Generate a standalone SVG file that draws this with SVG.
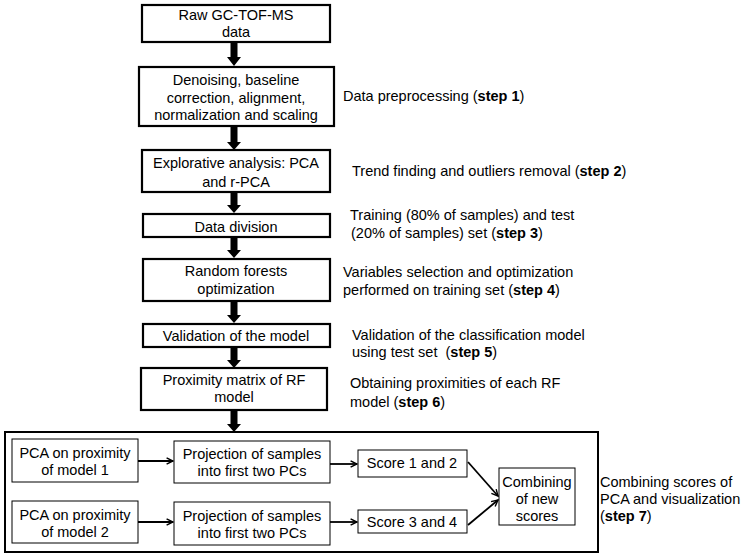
<svg xmlns="http://www.w3.org/2000/svg" width="747" height="557" viewBox="0 0 747 557">
<defs>
<style>
text{font-family:"Liberation Sans",Arial,sans-serif;font-size:14.5px;fill:#000}
.c{text-anchor:middle}
.b{font-weight:bold}
.main{fill:#fff;stroke:#000;stroke-width:2.2}
.inner{fill:#fff;stroke:#000;stroke-width:1}
.outer{fill:none;stroke:#000;stroke-width:2}
.thin{stroke:#000;stroke-width:1.8;fill:none;marker-end:url(#chev)}
.thick{fill:#000}
</style>
<marker id="chev" viewBox="0 0 10 10" refX="9" refY="5" markerWidth="8" markerHeight="8" orient="auto" markerUnits="userSpaceOnUse">
<path d="M1,1 L9,5 L1,9" fill="none" stroke="#000" stroke-width="1.8"/>
</marker>
</defs>
<rect x="0" y="0" width="747" height="557" fill="#fff"/>

<g id="n1"><rect class="main" x="142" y="5" width="188" height="37"/>
<text class="c" x="236" y="20">Raw GC-TOF-MS</text><text class="c" x="236" y="37">data</text></g>

<g id="n2"><rect class="main" x="139" y="67" width="195" height="59"/>
<text class="c" x="236" y="85">Denoising, baseline</text>
<text class="c" x="236" y="103">correction, alignment,</text>
<text class="c" x="236" y="120">normalization and scaling</text></g>

<g id="n3"><rect class="main" x="142" y="150" width="188" height="42"/>
<text class="c" x="236" y="168">Explorative analysis: PCA</text>
<text class="c" x="236" y="187">and r-PCA</text></g>

<g id="n4"><rect class="main" x="143" y="214" width="187" height="23"/>
<text class="c" x="236" y="232">Data division</text></g>

<g id="n5"><rect class="main" x="143" y="259" width="187" height="42"/>
<text class="c" x="236" y="276">Random forests</text>
<text class="c" x="236" y="294">optimization</text></g>

<g id="n6"><rect class="main" x="143" y="324" width="187" height="23"/>
<text class="c" x="236" y="341">Validation of the model</text></g>

<g id="n7"><rect class="main" x="141" y="368" width="186" height="42"/>
<text class="c" x="234" y="385">Proximity matrix of RF</text>
<text class="c" x="234" y="402">model</text></g>

<g id="group7"><rect class="outer" x="5" y="432" width="593" height="120"/></g>

<g id="p1"><rect class="inner" x="12" y="439" width="126" height="43"/>
<text class="c" x="75" y="458">PCA on proximity</text><text class="c" x="75" y="475">of model 1</text></g>
<g id="pr1"><rect class="inner" x="174" y="441" width="156" height="42"/>
<text class="c" x="252" y="459">Projection of samples</text><text class="c" x="252" y="476">into first two PCs</text></g>
<g id="s1"><rect class="inner" x="358" y="450" width="109" height="27"/>
<text class="c" x="412" y="468">Score 1 and 2</text></g>

<g id="p2"><rect class="inner" x="12" y="501" width="126" height="42"/>
<text class="c" x="75" y="520">PCA on proximity</text><text class="c" x="75" y="537">of model 2</text></g>
<g id="pr2"><rect class="inner" x="174" y="502" width="156" height="43"/>
<text class="c" x="252" y="521">Projection of samples</text><text class="c" x="252" y="538">into first two PCs</text></g>
<g id="s2"><rect class="inner" x="358" y="510" width="109" height="23"/>
<text class="c" x="412" y="527">Score 3 and 4</text></g>

<g id="comb"><rect class="inner" x="499" y="468" width="76" height="57"/>
<text class="c" x="537" y="487">Combining</text><text class="c" x="537" y="504">of new</text><text class="c" x="537" y="521">scores</text></g>

<g id="connectors">
<path class="thick" d="M230.5,42 h7 v15 h3.5 l-7,9 l-7,-9 h3.5 z"/>
<path class="thick" d="M230.5,126 h7 v16 h3.5 l-7,8 l-7,-8 h3.5 z"/>
<path class="thick" d="M230.5,192 h7 v13 h3.5 l-7,8 l-7,-8 h3.5 z"/>
<path class="thick" d="M230.5,237 h7 v13 h3.5 l-7,8 l-7,-8 h3.5 z"/>
<path class="thick" d="M230.5,301 h7 v14 h3.5 l-7,8 l-7,-8 h3.5 z"/>
<path class="thick" d="M230.5,347 h7 v13 h3.5 l-7,8 l-7,-8 h3.5 z"/>
<path class="thick" d="M230.5,410 h7 v14 h3.5 l-7,8 l-7,-8 h3.5 z"/>
<line class="thin" x1="138" y1="461" x2="173" y2="461"/>
<line class="thin" x1="330" y1="464" x2="357" y2="464"/>
<line class="thin" x1="138" y1="522" x2="173" y2="522"/>
<line class="thin" x1="330" y1="522" x2="357" y2="522"/>
<line class="thin" x1="468" y1="462" x2="498" y2="496"/>
<line class="thin" x1="468" y1="525" x2="498" y2="500"/>
</g>

<g id="labels">
<text x="343" y="101">Data preprocessing (<tspan class="b">step 1</tspan>)</text>
<text x="352" y="176">Trend finding and outliers removal (<tspan class="b">step 2</tspan>)</text>
<text x="350" y="220">Training (80% of samples) and test</text>
<text x="351" y="238">(20% of samples) set (<tspan class="b">step 3</tspan>)</text>
<text x="343" y="277">Variables selection and optimization</text>
<text x="343" y="295">performed on training set (<tspan class="b">step 4</tspan>)</text>
<text x="352" y="340">Validation of the classification model</text>
<text x="352" y="357" xml:space="preserve">using test set  (<tspan class="b">step 5</tspan>)</text>
<text x="350" y="388">Obtaining proximities of each RF</text>
<text x="350" y="407">model (<tspan class="b">step 6</tspan>)</text>
<text x="600" y="487">Combining scores of</text>
<text x="600" y="504">PCA and visualization</text>
<text x="600" y="521">(<tspan class="b">step 7</tspan>)</text>
</g>
</svg>
